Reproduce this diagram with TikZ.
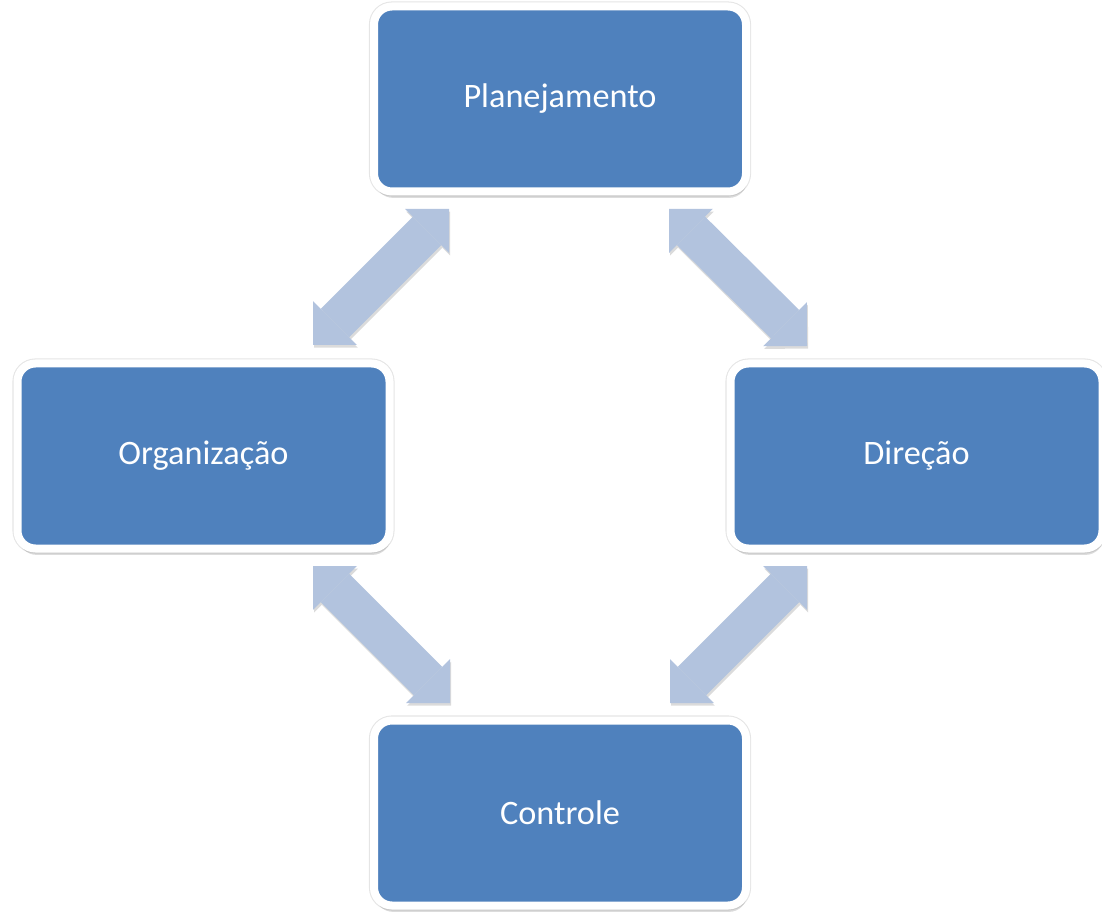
\documentclass[tikz,border=0pt]{standalone}
\usepackage{fontspec}
\setmainfont{Carlito}
\usetikzlibrary{arrows.meta,shadows}
\definecolor{boxblue}{HTML}{4F81BD}
\definecolor{arrowblue}{RGB}{178,195,222}
\begin{document}
\begin{tikzpicture}[x=0.75pt,y=-0.75pt,
  stagebox/.style={rectangle, rounded corners=13.5pt, fill=boxblue, draw=white,
    line width=6pt, minimum width=279pt, minimum height=138.75pt, inner sep=0pt,
    text=white, font=\fontsize{25.7}{30}\selectfont,
    preaction={draw=black!10, line width=7.6pt},
    drop shadow={shadow xshift=0.8pt, shadow yshift=-4.8pt, opacity=0.28}},
  dblarrow/.style={line width=30pt, draw=arrowblue,
    {Triangle[length=23.25pt,width=46.5pt,line width=0pt]}-{Triangle[length=23.25pt,width=46.5pt,line width=0pt]}},
  arrowshadow/.style={line width=30pt, draw=black!14,
    {Triangle[length=23.25pt,width=46.5pt,line width=0pt]}-{Triangle[length=23.25pt,width=46.5pt,line width=0pt]}}
]
\useasboundingbox (0,0) rectangle (1102,912);

\node[stagebox] (plan) at (560,99) {Planejamento};
\node[stagebox] (org) at (203.5,456) {Organização};
\node[stagebox] (dir) at (916.5,456) {Direção};
\node[stagebox] (ctrl) at (560,813) {Controle};

% arrow end points
\coordinate (a1s) at (313,345); \coordinate (a1e) at (449,209);
\coordinate (a2s) at (669,209); \coordinate (a2e) at (807,346);
\coordinate (a3s) at (313,566); \coordinate (a3e) at (450,703);
\coordinate (a4s) at (807,566); \coordinate (a4e) at (670,703);

\foreach \s/\e in {a1s/a1e,a2s/a2e,a3s/a3e,a4s/a4e}{
  \draw[arrowshadow, transform canvas={xshift=0.8pt,yshift=-2pt}] (\s) -- (\e);
  \draw[dblarrow] (\s) -- (\e);
}
\end{tikzpicture}
\end{document}
